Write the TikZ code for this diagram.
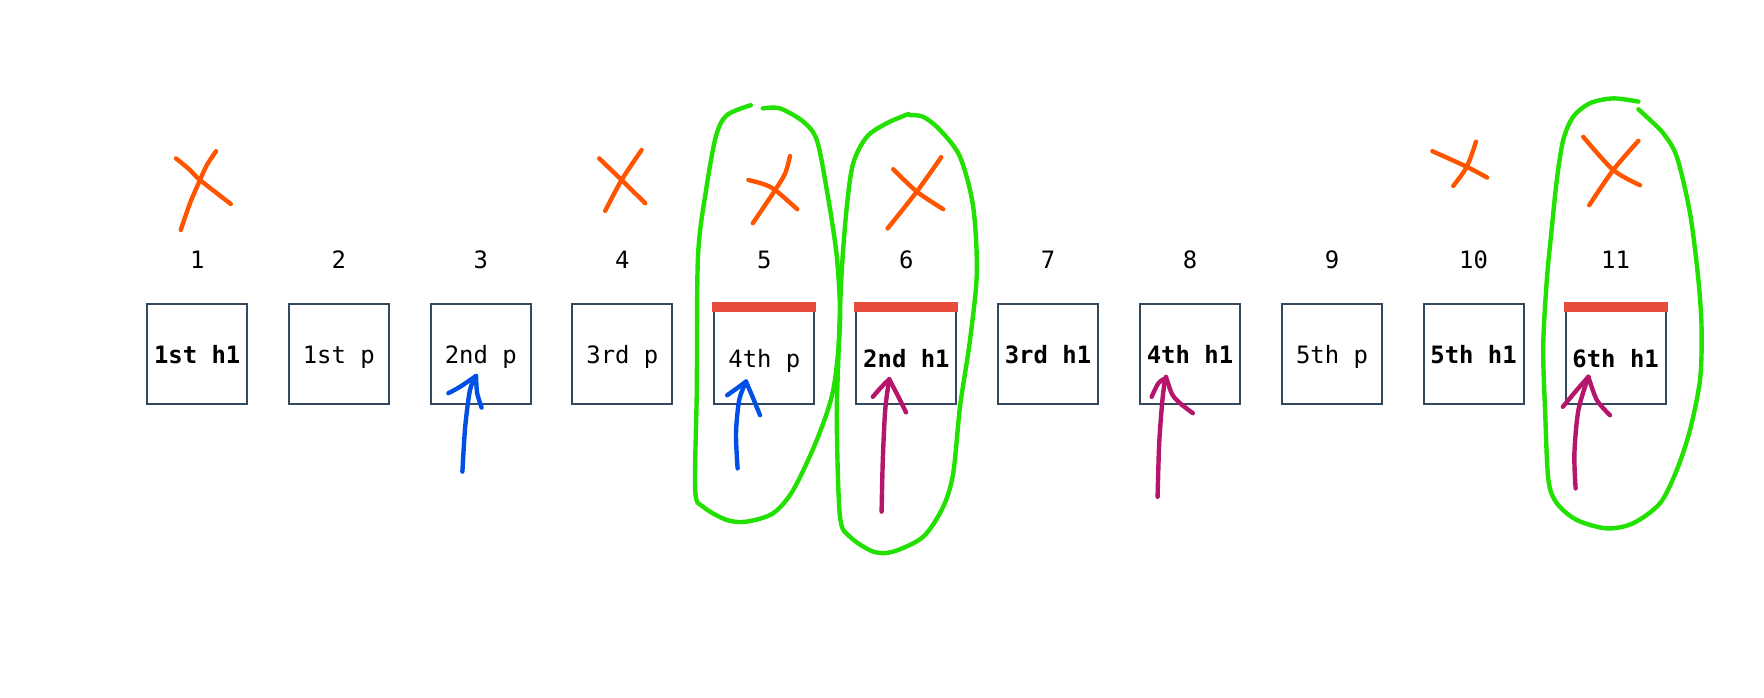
\documentclass[tikz,border=0pt]{standalone}
\usepackage{fontspec}
\setmonofont{DejaVu Sans Mono}
\definecolor{boxline}{HTML}{34495E}
\definecolor{flagred}{HTML}{E74C3C}
\definecolor{crossorange}{HTML}{FF5500}
\definecolor{loopgreen}{HTML}{22E000}
\definecolor{penblue}{HTML}{0050E6}
\definecolor{penpink}{HTML}{B5166B}
\begin{document}
\begin{tikzpicture}[
  elem/.style={draw=boxline, line width=0.05cm, minimum size=2.5cm, inner sep=0pt,
    font=\ttfamily\fontsize{17}{20}\selectfont, text height=0.6cm, text depth=0.15cm},
  flagged/.style={elem, text height=0.78cm},
  num/.style={font=\ttfamily\fontsize{17}{20}\selectfont, inner sep=0pt},
  scribble/.style={line width=0.11cm, line cap=round, line join=round},
  cross/.style={scribble, color=crossorange},
  ring/.style={scribble, color=loopgreen},
  bluepen/.style={scribble, color=penblue},
  pinkpen/.style={scribble, color=penpink}]
\useasboundingbox (0,0) rectangle (44.1,-17.425);

\node [elem] (e1) at (4.93,-8.86) {\bfseries 1st h1};
\node [elem] (e2) at (8.47,-8.86) {1st p};
\node [elem] (e3) at (12.02,-8.86) {2nd p};
\node [elem] (e4) at (15.56,-8.86) {3rd p};
\node [flagged] (e5) at (19.11,-8.86) {4th p};
\node [flagged] (e6) at (22.66,-8.86) {\bfseries 2nd h1};
\node [elem] (e7) at (26.20,-8.86) {\bfseries 3rd h1};
\node [elem] (e8) at (29.75,-8.86) {\bfseries 4th h1};
\node [elem] (e9) at (33.30,-8.86) {5th p};
\node [elem] (e10) at (36.84,-8.86) {\bfseries 5th h1};
\node [flagged] (e11) at (40.39,-8.86) {\bfseries 6th h1};

% red top bars
\fill [flagred] ([shift={(-0.025,0.025)}]e5.north west) rectangle ([shift={(0.025,-0.225)}]e5.north east);
\fill [flagred] ([shift={(-0.025,0.025)}]e6.north west) rectangle ([shift={(0.025,-0.225)}]e6.north east);
\fill [flagred] ([shift={(-0.025,0.025)}]e11.north west) rectangle ([shift={(0.025,-0.225)}]e11.north east);

\node [num] (n1) at (4.93,-6.5) {1};
\node [num] (n2) at (8.47,-6.5) {2};
\node [num] (n3) at (12.02,-6.5) {3};
\node [num] (n4) at (15.56,-6.5) {4};
\node [num] (n5) at (19.11,-6.5) {5};
\node [num] (n6) at (22.66,-6.5) {6};
\node [num] (n7) at (26.20,-6.5) {7};
\node [num] (n8) at (29.75,-6.5) {8};
\node [num] (n9) at (33.30,-6.5) {9};
\node [num] (n10) at (36.84,-6.5) {10};
\node [num] (n11) at (40.39,-6.5) {11};

% crosses
\draw [cross] plot [smooth] coordinates {(4.40,-3.96) (4.75,-4.25) (5.00,-4.50) (5.77,-5.10)};
\draw [cross] plot [smooth] coordinates {(5.40,-3.78) (5.17,-4.13) (5.00,-4.50) (4.75,-5.08) (4.52,-5.75)};
\draw [cross] plot [smooth] coordinates {(14.98,-3.96) (15.54,-4.50) (16.13,-5.08)};
\draw [cross] plot [smooth] coordinates {(16.04,-3.75) (15.54,-4.50) (15.13,-5.27)};
\draw [cross] plot [smooth] coordinates {(18.71,-4.50) (19.08,-4.60) (19.38,-4.75) (19.93,-5.23)};
\draw [cross] plot [smooth] coordinates {(19.75,-3.90) (19.63,-4.33) (19.38,-4.75) (18.82,-5.58)};
\draw [cross] plot [smooth] coordinates {(22.33,-4.23) (22.92,-4.79) (23.58,-5.23)};
\draw [cross] plot [smooth] coordinates {(23.53,-3.93) (22.92,-4.79) (22.19,-5.71)};
\draw [cross] plot [smooth] coordinates {(35.81,-3.78) (36.67,-4.17) (37.18,-4.44)};
\draw [cross] plot [smooth] coordinates {(36.90,-3.54) (36.67,-4.17) (36.33,-4.65)};
\draw [cross] plot [smooth] coordinates {(39.58,-3.42) (40.33,-4.25) (41.00,-4.63)};
\draw [cross] plot [smooth] coordinates {(40.96,-3.52) (40.33,-4.25) (39.73,-5.13)};

% green loops
\draw [ring] plot [smooth] coordinates {(18.77,-2.63) (18.17,-2.88) (17.90,-3.40)
  (17.66,-4.70) (17.45,-6.40) (17.42,-9.75) (17.38,-12.25) (17.58,-12.67) (18.17,-13.00)
  (18.67,-13.04) (19.33,-12.83) (19.83,-12.25) (20.42,-11.00) (20.83,-9.75) (21.00,-8.08)
  (20.92,-6.42) (20.67,-4.75) (20.42,-3.50) (20.08,-3.04) (19.50,-2.71) (19.07,-2.71)};
\draw [ring] plot [smooth] coordinates {(22.71,-2.85) (22.17,-3.08) (21.67,-3.42) (21.33,-4.08)
  (21.17,-5.17) (21.04,-6.83) (20.96,-8.92) (20.92,-10.58) (21.00,-12.92) (21.25,-13.42)
  (21.83,-13.79) (22.33,-13.79) (23.08,-13.42) (23.58,-12.67) (23.83,-11.83) (24.00,-10.17)
  (24.25,-8.50) (24.42,-6.83) (24.33,-5.17) (24.00,-3.92) (23.50,-3.25) (23.08,-2.92) (22.75,-2.88)};
\draw [ring] plot [smooth] coordinates {(40.96,-2.54) (40.33,-2.46) (39.75,-2.58) (39.33,-2.92)
  (39.08,-3.50) (38.92,-4.50) (38.79,-5.75) (38.67,-7.00) (38.58,-8.67) (38.63,-10.33)
  (38.71,-12.00) (38.92,-12.58) (39.42,-13.00) (40.17,-13.21) (40.83,-13.08) (41.50,-12.58)
  (41.92,-11.75) (42.25,-10.75) (42.50,-9.50) (42.54,-8.25) (42.46,-7.00) (42.25,-5.33)
  (41.92,-3.92) (41.58,-3.33) (41.25,-3.00) (40.96,-2.73)};

% hand drawn arrows
\draw [bluepen] plot [smooth] coordinates {(11.56,-11.79) (11.63,-10.67) (11.75,-9.75) (11.90,-9.40)};
\draw [bluepen] plot [smooth] coordinates {(11.21,-9.83) (11.50,-9.67) (11.90,-9.40)};
\draw [bluepen] plot [smooth] coordinates {(11.90,-9.40) (11.93,-9.83) (12.04,-10.19)};
\draw [bluepen] plot [smooth] coordinates {(18.44,-11.71) (18.40,-10.83) (18.48,-10.00) (18.65,-9.54)};
\draw [bluepen] plot [smooth] coordinates {(18.18,-9.88) (18.42,-9.71) (18.65,-9.54)};
\draw [bluepen] plot [smooth] coordinates {(18.65,-9.54) (18.83,-9.96) (19.00,-10.38)};
\draw [pinkpen] plot [smooth] coordinates {(22.04,-12.79) (22.07,-11.50) (22.13,-10.25) (22.23,-9.48)};
\draw [pinkpen] plot [smooth] coordinates {(21.82,-9.92) (22.04,-9.67) (22.23,-9.48)};
\draw [pinkpen] plot [smooth] coordinates {(22.23,-9.48) (22.46,-9.92) (22.65,-10.31)};
\draw [pinkpen] plot [smooth] coordinates {(28.94,-12.42) (28.98,-11.08) (29.06,-10.00) (29.13,-9.46)};
\draw [pinkpen] plot [smooth] coordinates {(28.79,-9.92) (28.96,-9.58) (29.13,-9.46)};
\draw [pinkpen] plot [smooth] coordinates {(29.15,-9.42) (29.30,-9.85) (29.50,-10.08) (29.82,-10.33)};
\draw [pinkpen] plot [smooth] coordinates {(39.39,-12.21) (39.36,-11.33) (39.46,-10.25) (39.71,-9.42)};
\draw [pinkpen] plot [smooth] coordinates {(39.07,-10.17) (39.42,-9.75) (39.71,-9.42)};
\draw [pinkpen] plot [smooth] coordinates {(39.71,-9.42) (39.92,-10.00) (40.25,-10.38)};
\end{tikzpicture}
\end{document}
